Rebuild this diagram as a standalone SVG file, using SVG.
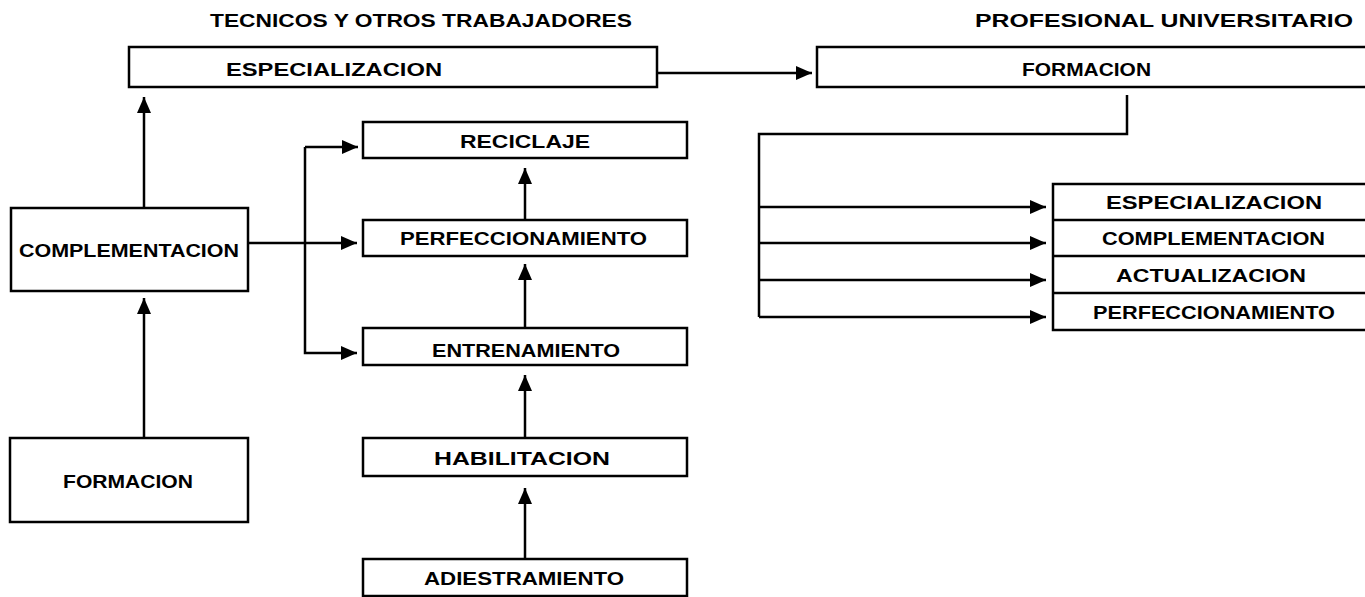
<svg xmlns="http://www.w3.org/2000/svg" width="1365" height="597" viewBox="0 0 1365 597">
<style>
  .box { fill: #fff; stroke: #000; stroke-width: 2.5; }
  .ln { fill: none; stroke: #000; stroke-width: 2.5; }
  .t { font-family: "Liberation Sans", Arial, sans-serif; font-weight: bold; font-size: 18px; fill: #000; }
</style>
<defs>
  <marker id="ah" markerUnits="userSpaceOnUse" markerWidth="17" markerHeight="14" refX="16" refY="7" orient="auto">
    <path d="M0,0 L16,7 L0,14 Z" fill="#000"/>
  </marker>
</defs>
<rect width="1365" height="597" fill="#fff"/>
<text class="t" x="210" y="27" textLength="422" lengthAdjust="spacingAndGlyphs">TECNICOS Y OTROS TRABAJADORES</text>
<text class="t" x="975" y="27" textLength="378" lengthAdjust="spacingAndGlyphs">PROFESIONAL UNIVERSITARIO</text>

<g id="connectors">
  <path class="ln" d="M657,73 H812" marker-end="url(#ah)"/>
  <path class="ln" d="M1127,95 V134 H759 V317"/>
  <path class="ln" d="M759,207 H1046" marker-end="url(#ah)"/>
  <path class="ln" d="M759,243 H1046" marker-end="url(#ah)"/>
  <path class="ln" d="M759,280 H1046" marker-end="url(#ah)"/>
  <path class="ln" d="M759,317 H1046" marker-end="url(#ah)"/>
  <path class="ln" d="M144,208 V97" marker-end="url(#ah)"/>
  <path class="ln" d="M144,438 V298" marker-end="url(#ah)"/>
  <path class="ln" d="M248,243 H357" marker-end="url(#ah)"/>
  <path class="ln" d="M305,147 V353 H357" marker-end="url(#ah)"/>
  <path class="ln" d="M305,147 H358" marker-end="url(#ah)"/>
  <path class="ln" d="M525,220 V168" marker-end="url(#ah)"/>
  <path class="ln" d="M525,328 V264" marker-end="url(#ah)"/>
  <path class="ln" d="M525,438 V375" marker-end="url(#ah)"/>
  <path class="ln" d="M525,559 V488" marker-end="url(#ah)"/>
</g>

<g id="tec-especializacion">
  <rect class="box" x="129" y="47" width="528" height="40"/>
  <text class="t" x="226" y="76" textLength="216" lengthAdjust="spacingAndGlyphs">ESPECIALIZACION</text>
</g>
<g id="pro-formacion">
  <rect class="box" x="817" y="47" width="560" height="40"/>
  <text class="t" x="1022" y="76" textLength="129" lengthAdjust="spacingAndGlyphs">FORMACION</text>
</g>
<g id="tec-complementacion">
  <rect class="box" x="11" y="208" width="237" height="83"/>
  <text class="t" x="19" y="257" textLength="220" lengthAdjust="spacingAndGlyphs">COMPLEMENTACION</text>
</g>
<g id="tec-formacion">
  <rect class="box" x="10" y="438" width="238" height="84"/>
  <text class="t" x="63" y="488" textLength="130" lengthAdjust="spacingAndGlyphs">FORMACION</text>
</g>
<g id="reciclaje">
  <rect class="box" x="363" y="122" width="324" height="36"/>
  <text class="t" x="460" y="148" textLength="130" lengthAdjust="spacingAndGlyphs">RECICLAJE</text>
</g>
<g id="perfeccionamiento">
  <rect class="box" x="363" y="220" width="324" height="36"/>
  <text class="t" x="400" y="245" textLength="247" lengthAdjust="spacingAndGlyphs">PERFECCIONAMIENTO</text>
</g>
<g id="entrenamiento">
  <rect class="box" x="363" y="328" width="324" height="37"/>
  <text class="t" x="432" y="357" textLength="188" lengthAdjust="spacingAndGlyphs">ENTRENAMIENTO</text>
</g>
<g id="habilitacion">
  <rect class="box" x="363" y="438" width="324" height="38"/>
  <text class="t" x="434" y="465" textLength="176" lengthAdjust="spacingAndGlyphs">HABILITACION</text>
</g>
<g id="adiestramiento">
  <rect class="box" x="363" y="559" width="324" height="37"/>
  <text class="t" x="424" y="585" textLength="200" lengthAdjust="spacingAndGlyphs">ADIESTRAMIENTO</text>
</g>
<g id="pro-stack">
  <rect class="box" x="1053" y="184" width="320" height="146"/>
  <line class="ln" x1="1053" y1="220" x2="1373" y2="220"/>
  <line class="ln" x1="1053" y1="256" x2="1373" y2="256"/>
  <line class="ln" x1="1053" y1="293" x2="1373" y2="293"/>
  <text class="t" x="1106" y="209" textLength="216" lengthAdjust="spacingAndGlyphs">ESPECIALIZACION</text>
  <text class="t" x="1102" y="245" textLength="223" lengthAdjust="spacingAndGlyphs">COMPLEMENTACION</text>
  <text class="t" x="1116" y="282" textLength="190" lengthAdjust="spacingAndGlyphs">ACTUALIZACION</text>
  <text class="t" x="1093" y="319" textLength="242" lengthAdjust="spacingAndGlyphs">PERFECCIONAMIENTO</text>
</g>
</svg>
